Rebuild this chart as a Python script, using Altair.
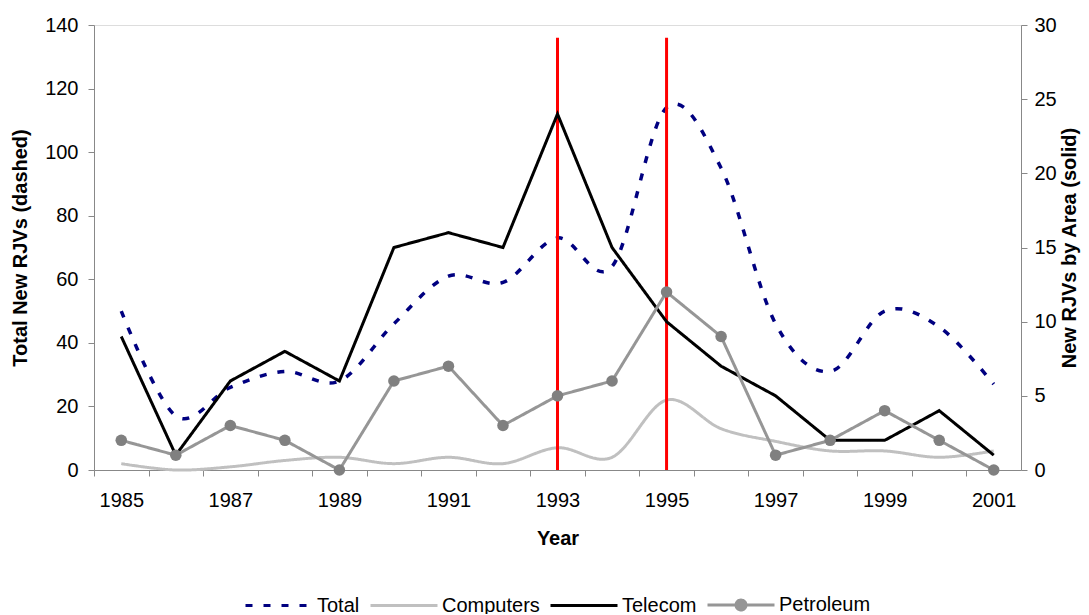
import altair as alt
import pandas as pd

years = list(range(1985, 2002))
total = [50, 17, 26, 31, 28, 46, 61, 59, 73, 64, 114, 95, 46, 31, 50, 45, 27]
computers = [2, 0, 1, 3, 4, 2, 4, 2, 7, 4, 22, 13, 9, 6, 6, 4, 6]
telecom = [9, 1, 6, 8, 6, 15, 16, 15, 24, 15, 10, 7, 5, 2, 2, 4, 1]
petroleum = [2, 1, 3, 2, 0, 6, 7, 3, 5, 6, 12, 9, 1, 2, 4, 2, 0]
event_years = [1993, 1995]
event_top = 136

series_order = ["Total", "Computers", "Telecom", "Petroleum"]
series_colors = ["#000080", "#c0c0c0", "#000000", "#969696"]
series_dash = [[7, 11], [1, 0], [1, 0], [1, 0]]

rows = []
for name, vals in zip(series_order, [total, computers, telecom, petroleum]):
    for y, v in zip(years, vals):
        rows.append({"year": y, "series": name, "value": v})
df = pd.DataFrame(rows)
events = pd.DataFrame({"year": event_years, "lo": [0] * len(event_years), "hi": [event_top] * len(event_years)})

FONT = "Liberation Sans"
PLOT_W, PLOT_H = 927, 445
BAND = PLOT_W / 17.0
SYM_LEN = 67

xscale = alt.Scale(domain=[1984.5, 2001.5], nice=False, zero=False)
xaxis = alt.Axis(
    title="Year",
    values=years,
    labelExpr="datum.value % 2 == 1 ? datum.value : ''",
    tickOffset=-BAND / 2,
    labelOffset=BAND / 2,
    grid=False,
    tickSize=6,
    labelPadding=14,
    titlePadding=18,
    labelFontSize=20,
    titleFontSize=20,
    titleFontWeight="bold",
)

# legend symbol for Petroleum: line with a (stroke-filled) dot in the middle
petro_path = (
    "M-1,0H1"
    "M-0.149,0A0.149,0.149,0,1,0,0.149,0A0.149,0.149,0,1,0,-0.149,0"
    "M-0.09,0A0.09,0.09,0,1,0,0.09,0A0.09,0.09,0,1,0,-0.09,0"
    "M-0.03,0A0.03,0.03,0,1,0,0.03,0A0.03,0.03,0,1,0,-0.03,0"
)
legend = alt.Legend(
    title=None,
    orient="none",
    legendX=150,
    legendY=545,
    direction="horizontal",
    symbolSize=SYM_LEN * SYM_LEN,
    symbolStrokeWidth=3,
    symbolOpacity=1,
    labelFontSize=20,
    labelFont=FONT,
    labelOffset=3,
    columnPadding=4,
    padding=0,
)

color_scale = alt.Scale(domain=series_order, range=series_colors)
dash_scale = alt.Scale(domain=series_order, range=series_dash)
shape_scale = alt.Scale(domain=series_order, range=["stroke", "stroke", "stroke", petro_path])

color_enc = alt.Color("series:N", scale=color_scale, legend=legend)
dash_enc = alt.StrokeDash("series:N", scale=dash_scale, legend=legend)

left_scale = alt.Scale(domain=[0, 140], nice=False)
right_scale = alt.Scale(domain=[0, 30], nice=False)

left_axis = alt.Axis(
    title="Total New RJVs (dashed)",
    values=list(range(0, 141, 20)),
    orient="left",
    grid=False,
    tickSize=6,
    labelPadding=10,
    titlePadding=14,
    labelFontSize=20,
    titleFontSize=20,
    titleFontWeight="bold",
)
right_axis = alt.Axis(
    title="New RJVs by Area (solid)",
    values=list(range(0, 31, 5)),
    orient="right",
    grid=False,
    tickSize=6,
    labelPadding=7,
    titlePadding=3,
    titleAngle=270,
    titleBaseline="top",
    labelFontSize=20,
    titleFontSize=20,
    titleFontWeight="bold",
)

base = alt.Chart(df)
X = alt.X("year:Q", scale=xscale, axis=xaxis)
YL = alt.Y("value:Q", scale=left_scale, axis=left_axis)
YR = alt.Y("value:Q", scale=right_scale, axis=right_axis)

# legend-only layer (no rows pass the filter) - gives the legend its symbols
legend_layer = base.transform_filter("false").mark_point(filled=False, opacity=1, strokeWidth=3).encode(
    x=X,
    y=YL,
    color=color_enc,
    strokeDash=dash_enc,
    shape=alt.Shape("series:N", scale=shape_scale, legend=legend),
)
total_line = base.transform_filter(alt.datum.series == "Total").mark_line(
    interpolate="cardinal", strokeWidth=3.5
).encode(x=X, y=YL, color=color_enc, strokeDash=dash_enc)
comp_line = base.transform_filter(alt.datum.series == "Computers").mark_line(
    interpolate="cardinal", strokeWidth=3
).encode(x=X, y=YL, color=color_enc, strokeDash=dash_enc)
red = alt.Chart(events).mark_rule(color="#ff0000", strokeWidth=3).encode(
    x=X, y=alt.Y("lo:Q", scale=left_scale, axis=left_axis), y2="hi:Q"
)
left = alt.layer(legend_layer, comp_line, total_line, red)

tele_line = base.transform_filter(alt.datum.series == "Telecom").mark_line(strokeWidth=3).encode(
    x=X, y=YR, color=color_enc, strokeDash=dash_enc
)
petro_line = base.transform_filter(alt.datum.series == "Petroleum").mark_line(strokeWidth=3).encode(
    x=X, y=YR, color=color_enc, strokeDash=dash_enc
)
petro_pts = base.transform_filter(alt.datum.series == "Petroleum").mark_point(
    filled=True, size=133, opacity=1, color="#808080"
).encode(x=X, y=YR)
right = alt.layer(tele_line, petro_line, petro_pts)

chart = alt.layer(left, right).resolve_scale(y="independent").properties(
    width=PLOT_W,
    height=PLOT_H,
    autosize=alt.AutoSizeParams(type="none"),
    padding={"left": 86, "top": 17, "right": 60, "bottom": 144},
).configure_view(strokeWidth=0).configure_axis(
    labelFont=FONT,
    titleFont=FONT,
    labelColor="#000000",
    titleColor="#000000",
    domainColor="#000000",
    tickColor="#000000",
    domainWidth=1,
    tickWidth=1,
).configure(font=FONT)

chart.save("out.html", embed_options={"renderer": "svg", "actions": False})
